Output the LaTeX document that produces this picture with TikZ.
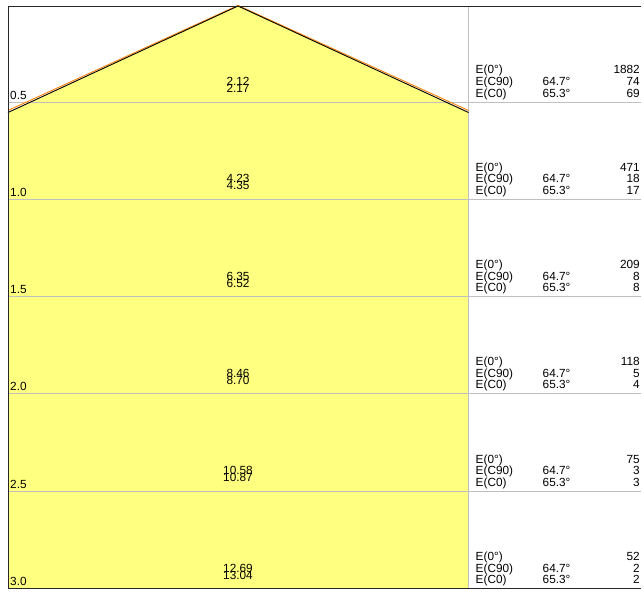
\documentclass[tikz,border=0pt]{standalone}
\usepackage{fontspec}
\setmainfont{Liberation Sans}
\definecolor{fillyel}{RGB}{255,255,128}
\definecolor{gridgray}{RGB}{192,192,192}
\definecolor{edgeorange}{RGB}{255,128,0}
\tikzset{
  txt/.style={inner sep=0pt, font=\fontsize{11.8}{12}\selectfont},
  lbl/.style={txt, anchor=base west},
  rlbl/.style={txt, anchor=base east},
  clbl/.style={txt, anchor=base},
  gridline/.style={draw=gridgray, line width=0.9pt},
  frameline/.style={draw=black!85, line width=1pt},
}
\begin{document}
\begin{tikzpicture}[x=1pt,y=-1pt]
\useasboundingbox (0,0) rectangle (644,594);
% yellow light body
\fill[fillyel] (8,112.5) -- (238,6) -- (468.5,112.5) -- (468.5,588.5) -- (8,588.5) -- cycle;
% grid lines
\foreach \yb in {102,199.3,296.6,393.9,491.2}{
  \draw[gridline] (8,\yb) -- (641,\yb);
}
\draw[gridline] (468.5,6.5) -- (468.5,588.5);
% triangle outline
\coordinate (tl) at (8,112.5);
\coordinate (tt) at (238,6);
\coordinate (tr) at (468.5,112.5);
\draw[edgeorange, line width=0.9pt] ([yshift=2pt]tl) -- ([yshift=0.6pt]tt) -- ([yshift=2pt]tr);
\draw[black, line width=0.9pt] (tl) -- (tt) -- (tr);
% frame
\draw[frameline] (641,6.5) -- (8,6.5) -- (8,588.5) -- (641,588.5);
% row texts
\foreach \yb/\lab/\ca/\cb/\ea/\eb/\ec [count=\i] in {
  102/0.5/2.12/2.17/1882/74/69,
  199.3/1.0/4.23/4.35/471/18/17,
  296.6/1.5/6.35/6.52/209/8/8,
  393.9/2.0/8.46/8.70/118/5/4,
  491.2/2.5/10.58/10.87/75/3/3,
  588.5/3.0/12.69/13.04/52/2/2}{
  \node[lbl] (h\i) at (10,\yb-3) {\lab};
  \node[clbl] (ca\i) at (238,\yb-16.5) {\ca};
  \node[clbl] (cb\i) at (238,\yb-9.5) {\cb};
  \node[lbl] (ea\i) at (475.5,\yb-28) {E(0°)};
  \node[lbl] (eb\i) at (475.5,\yb-16.5) {E(C90)};
  \node[lbl] (ec\i) at (475.5,\yb-5) {E(C0)};
  \node[lbl] (ab\i) at (542.5,\yb-16.5) {64.7°};
  \node[lbl] (ac\i) at (542.5,\yb-5) {65.3°};
  \node[rlbl] (va\i) at (640,\yb-28) {\ea};
  \node[rlbl] (vb\i) at (640,\yb-16.5) {\eb};
  \node[rlbl] (vc\i) at (640,\yb-5) {\ec};
}
\end{tikzpicture}
\end{document}
